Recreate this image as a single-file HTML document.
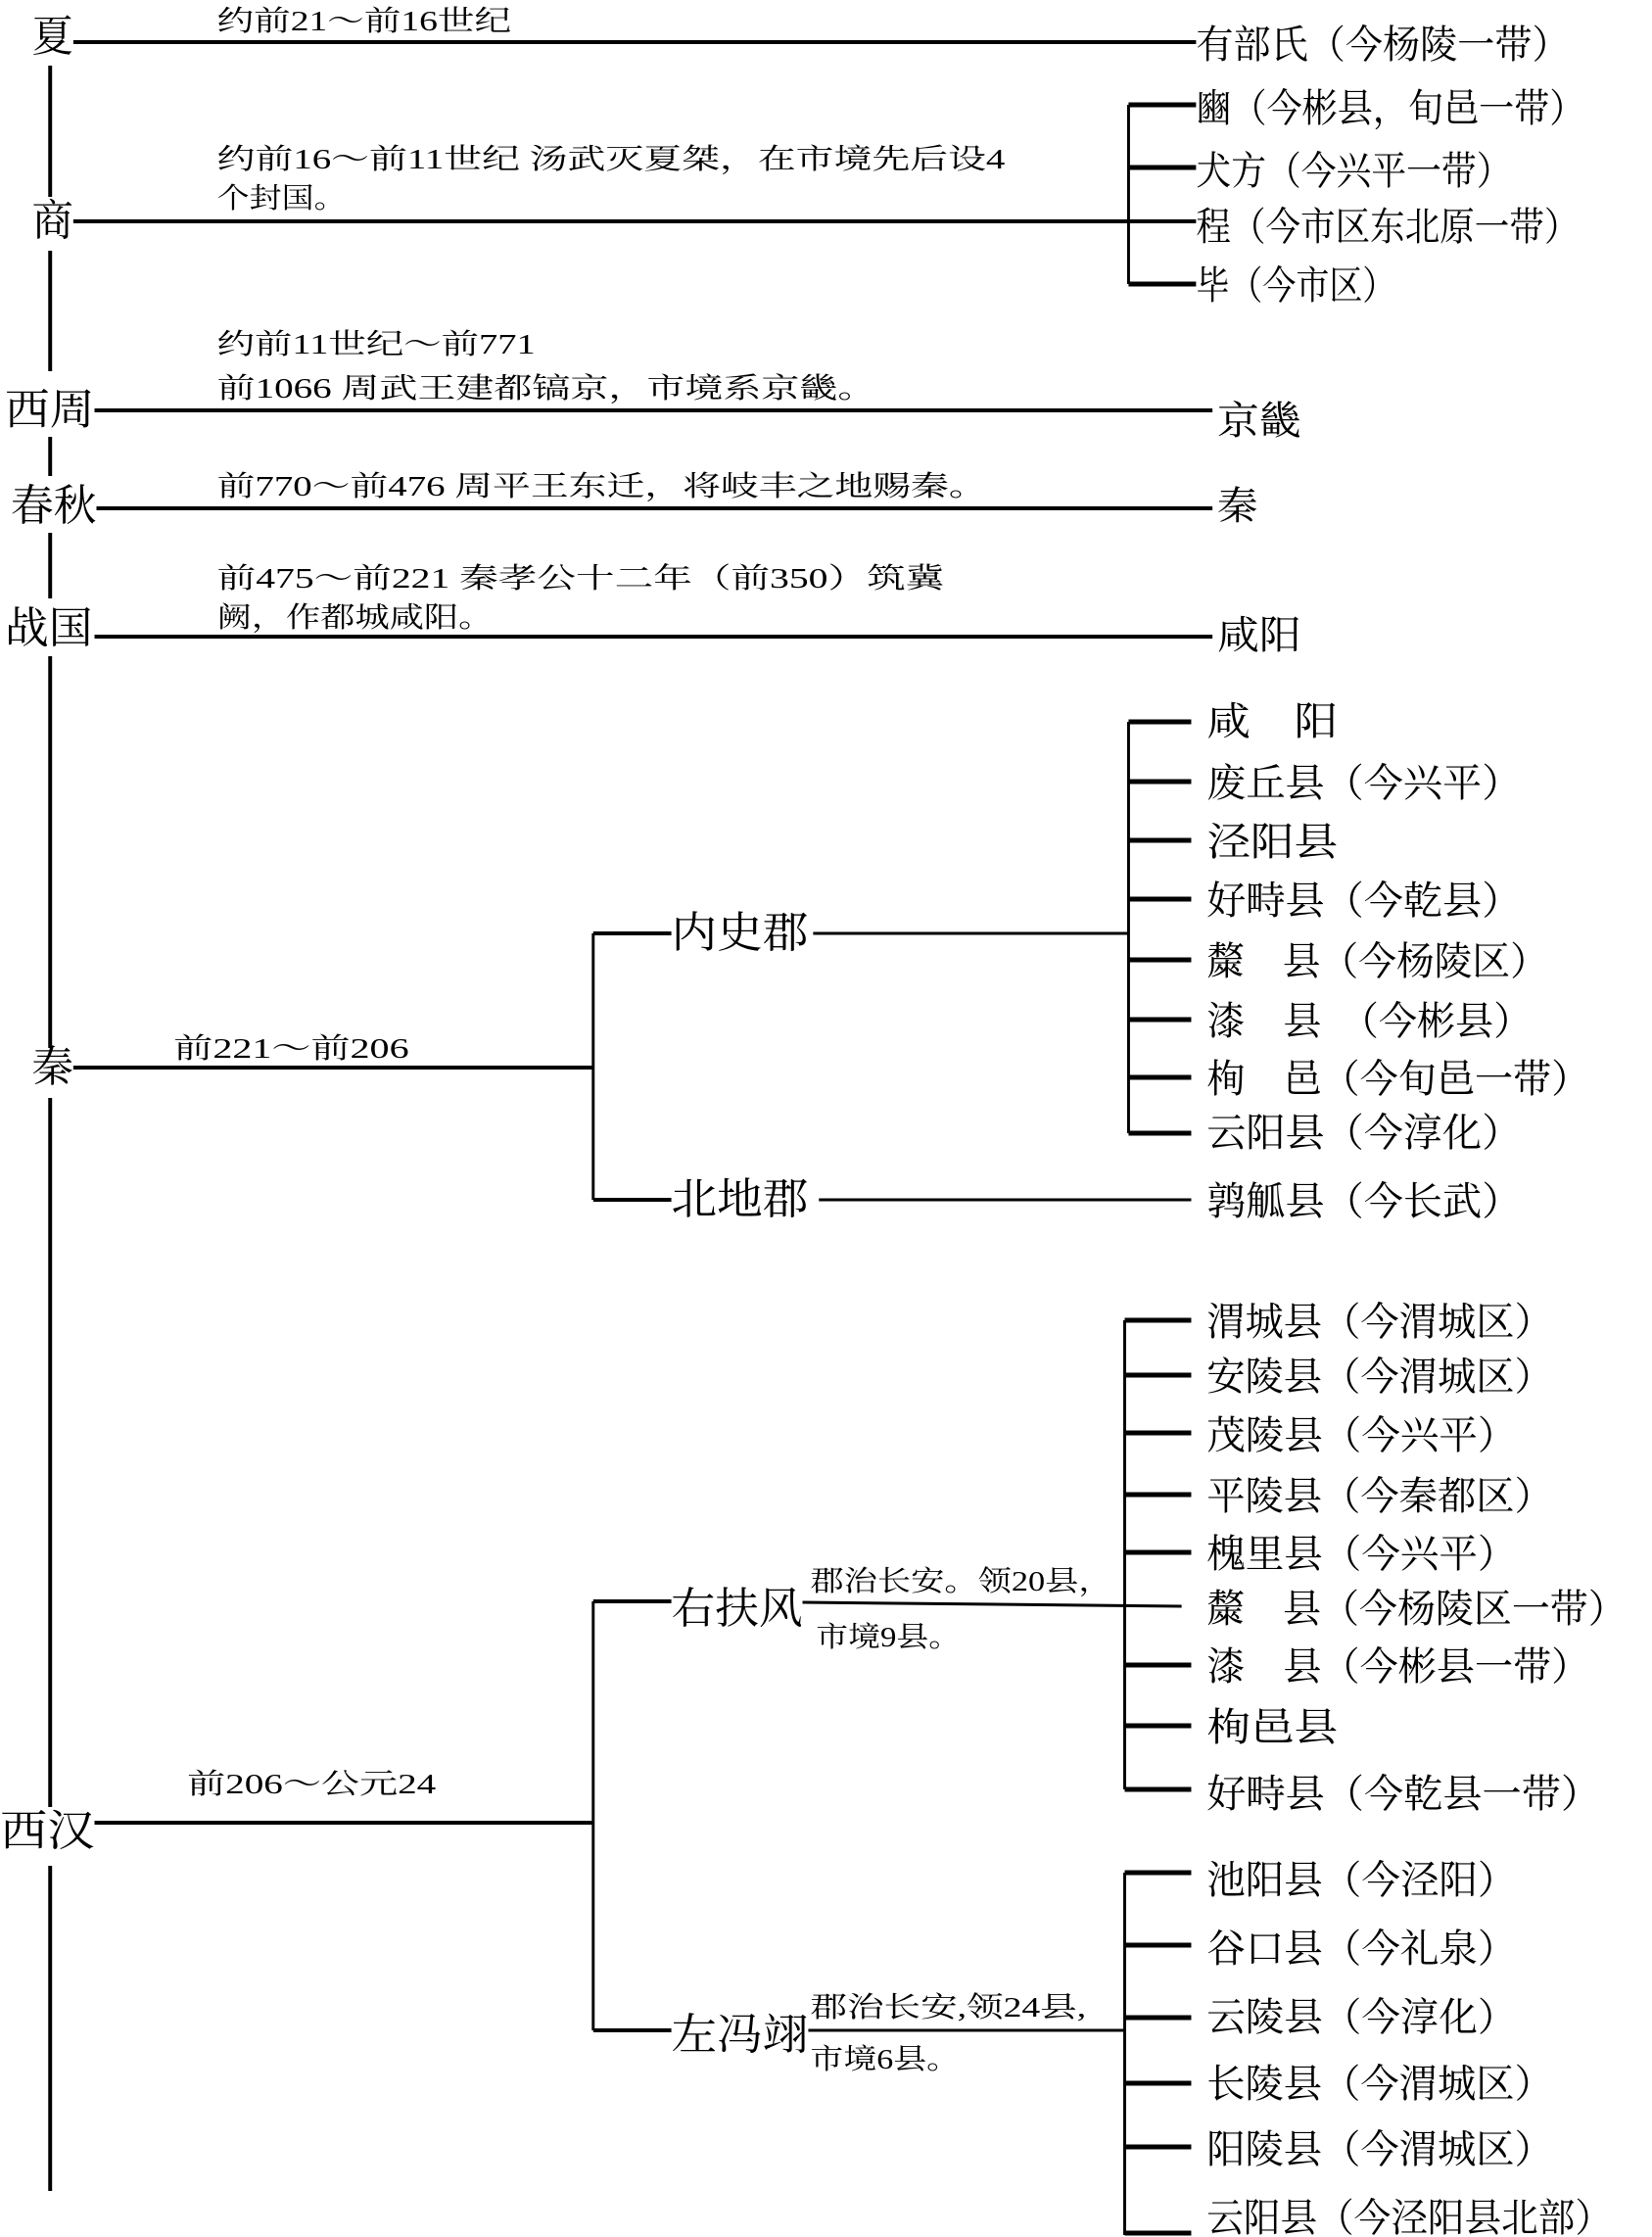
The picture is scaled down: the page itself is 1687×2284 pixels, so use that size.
<!DOCTYPE html>
<html><head><meta charset="utf-8"><style>
html,body{margin:0;padding:0;background:#fff;}
svg{display:block;}
text{font-family:"Liberation Serif","Noto Serif CJK SC","Noto Sans CJK SC",serif;fill:#000;dominant-baseline:central;font-weight:normal;}
.r{font-size:44px;}
.b{font-size:40px;}
.s{font-size:29px;}
</style></head><body>
<svg width="1687" height="2284" viewBox="0 0 1687 2284" xmlns="http://www.w3.org/2000/svg">
<g transform="matrix(0.985 0 0 1 0 0)">
<g stroke="#000" fill="none">
<g stroke-width="4">
<line x1="52" y1="67" x2="52" y2="201"/>
<line x1="52" y1="256" x2="52" y2="379"/>
<line x1="52" y1="446" x2="52" y2="486"/>
<line x1="52" y1="544" x2="52" y2="611"/>
<line x1="52" y1="670" x2="52" y2="1070"/>
<line x1="52" y1="1121" x2="52" y2="1845"/>
<line x1="52" y1="1905" x2="52" y2="2237"/>
</g>
<g stroke-width="4">
<line x1="76" y1="43" x2="1240" y2="43"/>
<line x1="76" y1="226" x2="1240" y2="226"/>
<line x1="98" y1="419" x2="1257" y2="419"/>
<line x1="100" y1="519" x2="1257" y2="519"/>
<line x1="98" y1="650" x2="1257" y2="650"/>
<line x1="1170" y1="107" x2="1170" y2="290" stroke-width="3"/>
<line x1="1170" y1="107" x2="1240" y2="107" stroke-width="5"/>
<line x1="1170" y1="171" x2="1240" y2="171" stroke-width="5"/>
<line x1="1170" y1="290" x2="1240" y2="290" stroke-width="5"/>
<line x1="76" y1="1090" x2="615" y2="1090"/>
<line x1="615" y1="953" x2="615" y2="1225" stroke-width="3"/>
<line x1="615" y1="953" x2="696" y2="953"/>
<line x1="615" y1="1225" x2="696" y2="1225"/>
<line x1="843" y1="953" x2="1170" y2="953" stroke-width="3"/>
<line x1="849" y1="1225" x2="1235" y2="1225" stroke-width="3"/>
<line x1="1170" y1="737" x2="1170" y2="1157" stroke-width="3"/>
<g stroke-width="5">
<line x1="1170" y1="737" x2="1235" y2="737"/>
<line x1="1170" y1="798" x2="1235" y2="798"/>
<line x1="1170" y1="858" x2="1235" y2="858"/>
<line x1="1170" y1="918" x2="1235" y2="918"/>
<line x1="1170" y1="980" x2="1235" y2="980"/>
<line x1="1170" y1="1041" x2="1235" y2="1041"/>
<line x1="1170" y1="1100" x2="1235" y2="1100"/>
<line x1="1170" y1="1157" x2="1235" y2="1157"/>
</g>
<line x1="98" y1="1861" x2="615" y2="1861"/>
<line x1="615" y1="1635" x2="615" y2="2073" stroke-width="3"/>
<line x1="615" y1="1635" x2="696" y2="1635"/>
<line x1="615" y1="2073" x2="696" y2="2073"/>
<line x1="832" y1="1636" x2="1225" y2="1640" stroke-width="3"/>
<line x1="838" y1="2073" x2="1166" y2="2073" stroke-width="3"/>
<line x1="1166" y1="1348" x2="1166" y2="1827" stroke-width="3"/>
<g stroke-width="5">
<line x1="1166" y1="1348" x2="1235" y2="1348"/>
<line x1="1166" y1="1404" x2="1235" y2="1404"/>
<line x1="1166" y1="1463" x2="1235" y2="1463"/>
<line x1="1166" y1="1526" x2="1235" y2="1526"/>
<line x1="1166" y1="1585" x2="1235" y2="1585"/>
<line x1="1166" y1="1700" x2="1235" y2="1700"/>
<line x1="1166" y1="1762" x2="1235" y2="1762"/>
<line x1="1166" y1="1827" x2="1235" y2="1827"/>
</g>
<line x1="1166" y1="1912" x2="1166" y2="2282" stroke-width="3"/>
<g stroke-width="5">
<line x1="1166" y1="1912" x2="1235" y2="1912"/>
<line x1="1166" y1="1986" x2="1235" y2="1986"/>
<line x1="1166" y1="2060" x2="1235" y2="2060"/>
<line x1="1166" y1="2127" x2="1235" y2="2127"/>
<line x1="1166" y1="2192" x2="1235" y2="2192"/>
<line x1="1166" y1="2280" x2="1235" y2="2280"/>
</g>
</g>
</g>

<text class="r" x="33" y="38" textLength="43" lengthAdjust="spacingAndGlyphs">夏</text>
<text class="r" x="33" y="226" textLength="43" lengthAdjust="spacingAndGlyphs">商</text>
<text class="r" x="5" y="419" textLength="93" lengthAdjust="spacingAndGlyphs">西周</text>
<text class="r" x="11" y="517" textLength="89" lengthAdjust="spacingAndGlyphs">春秋</text>
<text class="r" x="5" y="642" textLength="91" lengthAdjust="spacingAndGlyphs">战国</text>
<text class="r" x="33" y="1090" textLength="43" lengthAdjust="spacingAndGlyphs">秦</text>
<text class="r" x="0" y="1870" textLength="98" lengthAdjust="spacingAndGlyphs">西汉</text>

<text class="s" x="225" y="22" textLength="305" lengthAdjust="spacingAndGlyphs">约前21～前16世纪</text>
<text class="s" x="225" y="163" textLength="817" lengthAdjust="spacingAndGlyphs">约前16～前11世纪  汤武灭夏桀，在市境先后设4</text>
<text class="s" x="225" y="203" textLength="134" lengthAdjust="spacingAndGlyphs">个封国。</text>
<text class="s" x="225" y="352" textLength="330" lengthAdjust="spacingAndGlyphs">约前11世纪～前771</text>
<text class="s" x="225" y="397" textLength="683" lengthAdjust="spacingAndGlyphs">前1066  周武王建都镐京，市境系京畿。</text>
<text class="s" x="225" y="497" textLength="798" lengthAdjust="spacingAndGlyphs">前770～前476  周平王东迁，将岐丰之地赐秦。</text>
<text class="s" x="225" y="591" textLength="754" lengthAdjust="spacingAndGlyphs">前475～前221  秦孝公十二年（前350）筑冀</text>
<text class="s" x="225" y="631" textLength="286" lengthAdjust="spacingAndGlyphs">阙，作都城咸阳。</text>
<text class="s" x="180" y="1071" textLength="244" lengthAdjust="spacingAndGlyphs">前221～前206</text>
<text class="s" x="194" y="1822" textLength="258" lengthAdjust="spacingAndGlyphs">前206～公元24</text>
<text class="s" x="840" y="1615" textLength="313" lengthAdjust="spacingAndGlyphs">郡治长安。领20县，</text>
<text class="s" x="846" y="1672" textLength="150" lengthAdjust="spacingAndGlyphs">市境9县。</text>
<text class="s" x="840" y="2050" textLength="286" lengthAdjust="spacingAndGlyphs">郡治长安,领24县,</text>
<text class="s" x="840" y="2103" textLength="155" lengthAdjust="spacingAndGlyphs">市境6县。</text>

<text class="r" x="696" y="953" textLength="142" lengthAdjust="spacingAndGlyphs">内史郡</text>
<text class="r" x="696" y="1225" textLength="142" lengthAdjust="spacingAndGlyphs">北地郡</text>
<text class="r" x="696" y="1643" textLength="136" lengthAdjust="spacingAndGlyphs">右扶风</text>
<text class="r" x="696" y="2078" textLength="142" lengthAdjust="spacingAndGlyphs">左冯翊</text>

<text class="b" x="1240" y="46" textLength="387" lengthAdjust="spacingAndGlyphs">有部氏（今杨陵一带）</text>
<text class="b" x="1240" y="111" textLength="403" lengthAdjust="spacingAndGlyphs">豳（今彬县，旬邑一带）</text>
<text class="b" x="1240" y="175" textLength="327" lengthAdjust="spacingAndGlyphs">犬方（今兴平一带）</text>
<text class="b" x="1240" y="232" textLength="397" lengthAdjust="spacingAndGlyphs">程（今市区东北原一带）</text>
<text class="b" x="1240" y="292" textLength="207" lengthAdjust="spacingAndGlyphs">毕（今市区）</text>
<text class="b" x="1262" y="430" textLength="87" lengthAdjust="spacingAndGlyphs">京畿</text>
<text class="b" x="1262" y="517" textLength="42" lengthAdjust="spacingAndGlyphs">秦</text>
<text class="b" x="1262" y="649" textLength="87" lengthAdjust="spacingAndGlyphs">咸阳</text>

<text class="b" x="1251" y="737" textLength="136" lengthAdjust="spacingAndGlyphs">咸　阳</text>
<text class="b" x="1251" y="800" textLength="326" lengthAdjust="spacingAndGlyphs">废丘县（今兴平）</text>
<text class="b" x="1251" y="860" textLength="136" lengthAdjust="spacingAndGlyphs">泾阳县</text>
<text class="b" x="1251" y="920" textLength="326" lengthAdjust="spacingAndGlyphs">好畤县（今乾县）</text>
<text class="b" x="1251" y="982" textLength="354" lengthAdjust="spacingAndGlyphs">斄　县（今杨陵区）</text>
<text class="b" x="1251" y="1043" textLength="337" lengthAdjust="spacingAndGlyphs">漆　县　（今彬县）</text>
<text class="b" x="1251" y="1102" textLength="397" lengthAdjust="spacingAndGlyphs">栒　邑（今旬邑一带）</text>
<text class="b" x="1251" y="1157" textLength="326" lengthAdjust="spacingAndGlyphs">云阳县（今淳化）</text>
<text class="b" x="1251" y="1227" textLength="326" lengthAdjust="spacingAndGlyphs">鹑觚县（今长武）</text>

<text class="b" x="1251" y="1350" textLength="359" lengthAdjust="spacingAndGlyphs">渭城县（今渭城区）</text>
<text class="b" x="1251" y="1406" textLength="359" lengthAdjust="spacingAndGlyphs">安陵县（今渭城区）</text>
<text class="b" x="1251" y="1466" textLength="321" lengthAdjust="spacingAndGlyphs">茂陵县（今兴平）</text>
<text class="b" x="1251" y="1528" textLength="359" lengthAdjust="spacingAndGlyphs">平陵县（今秦都区）</text>
<text class="b" x="1251" y="1587" textLength="321" lengthAdjust="spacingAndGlyphs">槐里县（今兴平）</text>
<text class="b" x="1251" y="1643" textLength="435" lengthAdjust="spacingAndGlyphs">斄　县（今杨陵区一带）</text>
<text class="b" x="1251" y="1702" textLength="397" lengthAdjust="spacingAndGlyphs">漆　县（今彬县一带）</text>
<text class="b" x="1251" y="1764" textLength="136" lengthAdjust="spacingAndGlyphs">栒邑县</text>
<text class="b" x="1251" y="1832" textLength="408" lengthAdjust="spacingAndGlyphs">好畤县（今乾县一带）</text>
<text class="b" x="1251" y="1920" textLength="321" lengthAdjust="spacingAndGlyphs">池阳县（今泾阳）</text>
<text class="b" x="1251" y="1990" textLength="321" lengthAdjust="spacingAndGlyphs">谷口县（今礼泉）</text>
<text class="b" x="1251" y="2060" textLength="321" lengthAdjust="spacingAndGlyphs">云陵县（今淳化）</text>
<text class="b" x="1251" y="2128" textLength="359" lengthAdjust="spacingAndGlyphs">长陵县（今渭城区）</text>
<text class="b" x="1251" y="2195" textLength="359" lengthAdjust="spacingAndGlyphs">阳陵县（今渭城区）</text>
<text class="b" x="1251" y="2265" textLength="420" lengthAdjust="spacingAndGlyphs">云阳县（今泾阳县北部）</text>
</g>
</svg>
</body></html>
